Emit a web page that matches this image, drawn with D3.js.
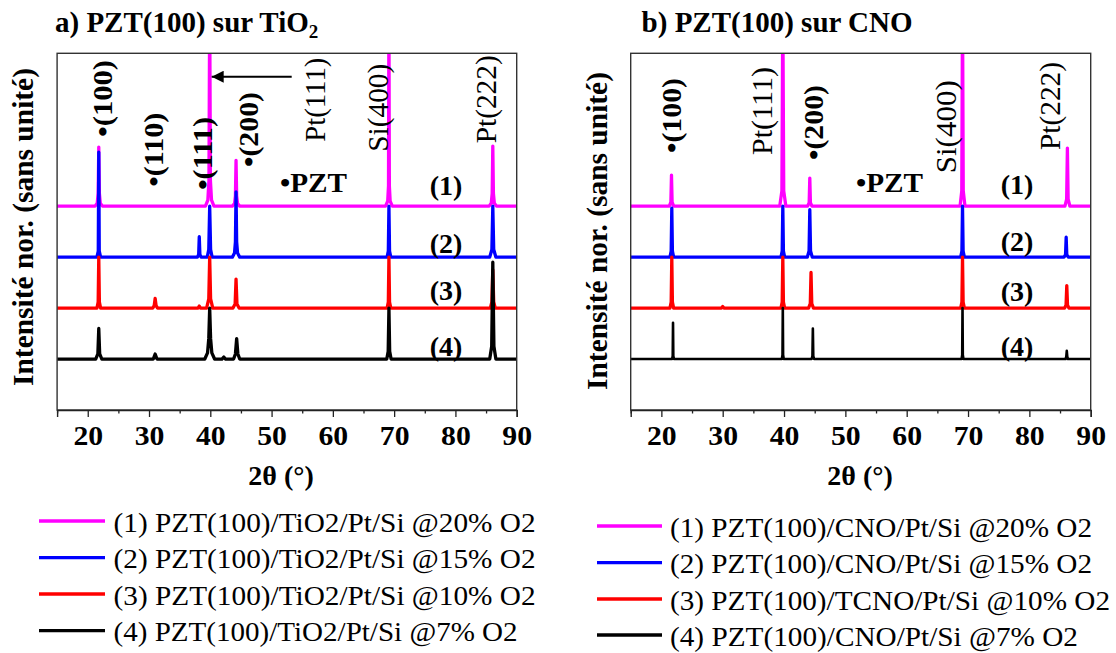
<!DOCTYPE html>
<html><head><meta charset="utf-8">
<script src="https://cdn.jsdelivr.net/npm/d3@7"></script>
<style>body{margin:0;background:#fff}svg{display:block}</style>
</head><body>
<script>
// ---------- DATA ----------
const xTicks = [20, 30, 40, 50, 60, 70, 80, 90];
const xMinorTicks = [15, 25, 35, 45, 55, 65, 75, 85];
const seriesColors = ["#ff00ff", "#0000ff", "#ff0000", "#000000"];
const seriesOffsets = [4, 3, 2, 1];
const seriesNumbers = ["(1)", "(2)", "(3)", "(4)"];

// Left panel (PZT(100) sur TiO2): [2θ, relative normalized intensity]
const left1 = [[15,0],[21.2,0],[21.55,0.06],[21.7,0.25],[21.8,1.16],[21.9,0.25],[22.05,0.06],[22.4,0],[39.2,0],[39.6,0.12],[39.78,0.5],[39.9,4],[40.02,0.5],[40.2,0.12],[40.6,0],[43.6,0],[43.95,0.05],[44.1,0.2],[44.2,0.9],[44.3,0.2],[44.45,0.05],[44.8,0],[68.6,0],[68.95,0.1],[69.08,0.4],[69.15,4],[69.22,0.4],[69.35,0.1],[69.7,0],[85.5,0],[85.85,0.06],[86.0,0.25],[86.1,1.18],[86.2,0.25],[86.35,0.06],[86.7,0],[90,0]];
const left2 = [[15,0],[21.5,0],[21.72,0.12],[21.8,2.06],[21.88,0.12],[22.1,0],[37.9,0],[38.1,0.05],[38.2,0.4],[38.3,0.05],[38.5,0],[39.5,0],[39.75,0.15],[39.9,1.0],[40.05,0.15],[40.3,0],[43.6,0],[43.95,0.08],[44.1,0.3],[44.2,1.28],[44.3,0.3],[44.45,0.08],[44.8,0],[68.85,0],[69.05,0.12],[69.15,1.0],[69.25,0.12],[69.45,0],[85.6,0],[85.95,0.15],[86.1,1.0],[86.25,0.15],[86.6,0],[90,0]];
const left3 = [[15,0],[21.5,0],[21.7,0.12],[21.8,1.0],[21.9,0.12],[22.1,0],[30.6,0],[30.85,0.05],[31.0,0.19],[31.15,0.05],[31.4,0],[38.0,0],[38.2,0.04],[38.4,0],[39.4,0],[39.75,0.18],[39.9,1.0],[40.05,0.18],[40.4,0],[43.7,0],[44.05,0.08],[44.2,0.57],[44.35,0.08],[44.7,0],[68.85,0],[69.05,0.12],[69.15,1.0],[69.25,0.12],[69.45,0],[85.7,0],[85.95,0.12],[86.1,0.75],[86.25,0.12],[86.5,0],[90,0]];
const left4 = [[15,0],[21.3,0],[21.65,0.1],[21.8,0.6],[21.95,0.1],[22.3,0],[30.7,0],[31.0,0.1],[31.3,0],[39.1,0],[39.55,0.12],[39.75,0.4],[39.9,1.0],[40.05,0.4],[40.25,0.12],[40.7,0],[41.9,0],[42.2,0.04],[42.5,0],[43.8,0],[44.1,0.1],[44.3,0.4],[44.5,0.1],[44.8,0],[68.8,0],[69.03,0.15],[69.15,1.0],[69.27,0.15],[69.5,0],[85.6,0],[85.92,0.25],[86.1,1.9],[86.28,0.25],[86.6,0],[90,0]];

// Right panel (PZT(100) sur CNO)
const right1 = [[15,0],[21.3,0],[21.55,0.08],[21.65,0.61],[21.75,0.08],[22.0,0],[39.3,0],[39.65,0.3],[39.8,4],[39.95,0.3],[40.3,0],[43.85,0],[44.1,0.07],[44.2,0.55],[44.3,0.07],[44.55,0],[68.7,0],[68.98,0.3],[69.1,4],[69.22,0.3],[69.5,0],[85.8,0],[86.08,0.14],[86.2,1.14],[86.32,0.14],[86.6,0],[90,0]];
const right2 = [[15,0],[21.4,0],[21.6,0.12],[21.7,0.96],[21.8,0.12],[22.0,0],[39.5,0],[39.7,0.12],[39.8,1.0],[39.9,0.12],[40.1,0],[43.8,0],[44.08,0.12],[44.2,0.93],[44.32,0.12],[44.6,0],[68.8,0],[69.0,0.12],[69.1,1.0],[69.2,0.12],[69.4,0],[85.65,0],[85.9,0.05],[86.0,0.39],[86.1,0.05],[86.35,0],[90,0]];
const right3 = [[15,0],[21.4,0],[21.6,0.12],[21.7,1.0],[21.8,0.12],[22.0,0],[29.8,0],[30.0,0.03],[30.2,0],[39.5,0],[39.7,0.12],[39.8,1.0],[39.9,0.12],[40.1,0],[44.0,0],[44.28,0.09],[44.4,0.7],[44.52,0.09],[44.8,0],[68.8,0],[69.0,0.12],[69.1,1.0],[69.2,0.12],[69.4,0],[85.75,0],[85.98,0.06],[86.1,0.44],[86.22,0.06],[86.45,0],[90,0]];
const right4 = [[15,0],[21.75,0],[21.85,0.06],[21.9,0.71],[21.95,0.06],[22.05,0],[39.65,0],[39.75,0.08],[39.8,1.0],[39.85,0.08],[39.95,0],[44.5,0],[44.63,0.06],[44.7,0.6],[44.77,0.06],[44.9,0],[68.95,0],[69.05,0.08],[69.1,1.0],[69.15,0.08],[69.25,0],[85.9,0],[86.02,0.05],[86.1,0.16],[86.18,0.05],[86.3,0],[90,0]];

const legendLeft = ["(1) PZT(100)/TiO2/Pt/Si @20% O2","(2) PZT(100)/TiO2/Pt/Si @15% O2","(3) PZT(100)/TiO2/Pt/Si @10% O2","(4) PZT(100)/TiO2/Pt/Si @7% O2"];
const legendRight = ["(1) PZT(100)/CNO/Pt/Si @20% O2","(2) PZT(100)/CNO/Pt/Si @15% O2","(3) PZT(100)/TCNO/Pt/Si @10% O2","(4) PZT(100)/CNO/Pt/Si @7% O2"];

const yLabel = "Intensité nor. (sans unité)";
const xLabel = "2θ (°)";

// ---------- DRAWING ----------
const W = 1116, H = 653;
const svg = d3.select("body").append("svg").attr("width", W).attr("height", H);
const SERIF = "'Liberation Serif','Times New Roman',serif";

const panels = [
  {id:"L", x0:57.1, x1:516.7, series:[left1,left2,left3,left4],
   title:"a) PZT(100) sur TiO", titleSub:"2", titleX:55,
   yLabX:33, yLabY:227, xLabX:281,
   numX:446, numY:[195,253,300,356],
   legend:legendLeft, legX0:39, legX1:105, legTx:113.6, legY:[521,557.7,594,630.7], legLen:[422,422,422,404],
   rot:[
     {t:"•(100)", x:112, y:137, len:77, bold:true},
     {t:"•(110)", x:163, y:186.7, len:74, bold:true},
     {t:"•(111)", x:212, y:190, len:73, bold:true},
     {t:"•(200)", x:258, y:167, len:75, bold:true},
     {t:"Pt(111)", x:325, y:141.7, len:84, bold:false},
     {t:"Si(400)", x:388, y:151.7, len:88, bold:false},
     {t:"Pt(222)", x:496, y:143.3, len:88, bold:false}
   ],
   pzt:{x:280, y:191.7, len:67},
   arrow:{x1:291.7, x2:211.7, y:76.7}
  },
  {id:"R", x0:630.7, x1:1090.7, series:[right1,right2,right3,right4],
   title:"b) PZT(100) sur CNO", titleSub:null, titleX:641.6,
   yLabX:607, yLabY:231, xLabX:860,
   numX:1017, numY:[194,250.5,301,355.5],
   legend:legendRight, legX0:597, legX1:662, legTx:670, legY:[526,562.7,599,635], legLen:[422,422,440,408],
   rot:[
     {t:"•(100)", x:681, y:153, len:75, bold:true},
     {t:"Pt(111)", x:772, y:155, len:88, bold:false},
     {t:"•(200)", x:823, y:160, len:75, bold:true},
     {t:"Si(400)", x:956, y:173.3, len:93, bold:false},
     {t:"Pt(222)", x:1060, y:150, len:88, bold:false}
   ],
   pzt:{x:856, y:191.7, len:67},
   arrow:null
  }
];

const yTop = 53.3, yBot = 410;
const defs = svg.append("defs");
defs.append("marker").attr("id","ah").attr("viewBox","0 0 10 10").attr("refX",10).attr("refY",5)
  .attr("markerWidth",7).attr("markerHeight",6).attr("markerUnits","strokeWidth").attr("orient","auto")
  .append("path").attr("d","M0,0 L10,5 L0,10 z").attr("fill","#000");

panels.forEach(p => {
  const x = d3.scaleLinear().domain([15, 90]).range([p.x0, p.x1]);
  const y = d3.scaleLinear().domain([0, 7]).range([yBot, yTop]);

  defs.append("clipPath").attr("id","clip"+p.id).append("rect")
    .attr("x", p.x0).attr("y", yTop).attr("width", p.x1 - p.x0).attr("height", yBot - yTop);

  const g = svg.append("g");
  const plot = g.append("g").attr("clip-path", "url(#clip"+p.id+")");
  p.series.forEach((s, i) => {
    const line = d3.line().x(d => x(d[0])).y(d => y(d[1] + seriesOffsets[i]));
    plot.append("path").datum(s).attr("d", line).attr("fill","none")
      .attr("stroke", seriesColors[i]).attr("stroke-width", (p.id==="R" && i===3) ? 2.6 : 3.3)
      .attr("stroke-linejoin","round");
  });

  // frame
  g.append("rect").attr("x", p.x0).attr("y", yTop).attr("width", p.x1 - p.x0).attr("height", yBot - yTop)
    .attr("fill","none").attr("stroke","#333").attr("stroke-width",1.4);

  // axes
  const ax = d3.axisBottom(x).tickValues(xTicks).tickSize(7).tickFormat(d3.format("d"));
  const axG = g.append("g").attr("transform", `translate(0,${yBot})`).call(ax);
  axG.attr("font-family", SERIF);
  axG.select(".domain").attr("stroke","#222").attr("stroke-width",1.4);
  axG.selectAll(".tick line").attr("stroke","#222").attr("stroke-width",1.3);
  axG.selectAll(".tick text").attr("y", 35).attr("dy", 0)
    .attr("font-family", SERIF).attr("font-weight","bold").attr("font-size", 27)
    .attr("fill","#000").attr("transform","scale(1.1,1)");
  const axm = d3.axisBottom(x).tickValues(xMinorTicks).tickSize(3.5).tickFormat("");
  const axmG = g.append("g").attr("transform", `translate(0,${yBot})`).call(axm);
  axmG.select(".domain").remove();
  axmG.selectAll(".tick line").attr("stroke","#222").attr("stroke-width",1.3);

  // title
  const tt = g.append("text").attr("x", p.titleX).attr("y", 31.7)
    .attr("font-family", SERIF).attr("font-weight","bold").attr("font-size", 29).attr("fill","#000");
  tt.append("tspan").text(p.title);
  if (p.titleSub) tt.append("tspan").attr("font-size", 19).attr("dy", 6).text(p.titleSub);

  // y label
  g.append("text").attr("transform", `translate(${p.yLabX},${p.yLabY}) rotate(-90)`)
    .attr("text-anchor","middle").attr("font-family", SERIF).attr("font-weight","bold")
    .attr("font-size", 29).attr("textLength", 318).attr("lengthAdjust","spacingAndGlyphs").text(yLabel);

  // x label
  g.append("text").attr("x", p.xLabX).attr("y", 485).attr("text-anchor","middle")
    .attr("font-family", SERIF).attr("font-weight","bold").attr("font-size", 28).text(xLabel);

  // series numbers
  seriesNumbers.forEach((n, i) => {
    g.append("text").attr("x", p.numX).attr("y", p.numY[i]).attr("text-anchor","middle")
      .attr("font-family", SERIF).attr("font-weight","bold").attr("font-size", 28).text(n);
  });

  // rotated peak annotations
  p.rot.forEach(a => {
    g.append("text").attr("transform", `translate(${a.x},${a.y}) rotate(-90)`)
      .attr("font-family", SERIF).attr("font-weight", a.bold ? "bold" : "normal")
      .attr("font-size", a.bold ? 28 : 29).attr("textLength", a.len).attr("lengthAdjust","spacingAndGlyphs")
      .text(a.t);
  });

  // •PZT
  g.append("text").attr("x", p.pzt.x).attr("y", p.pzt.y).attr("font-family", SERIF)
    .attr("font-weight","bold").attr("font-size", 28).attr("textLength", p.pzt.len)
    .attr("lengthAdjust","spacingAndGlyphs").text("•PZT");

  // arrow
  if (p.arrow) {
    g.append("line").attr("x1", p.arrow.x1).attr("x2", p.arrow.x2).attr("y1", p.arrow.y).attr("y2", p.arrow.y)
      .attr("stroke","#000").attr("stroke-width",2).attr("marker-end","url(#ah)");
  }

  // legend
  p.legend.forEach((t, i) => {
    g.append("line").attr("x1", p.legX0).attr("x2", p.legX1).attr("y1", p.legY[i]).attr("y2", p.legY[i])
      .attr("stroke", seriesColors[i]).attr("stroke-width", 3.3);
    g.append("text").attr("x", p.legTx).attr("y", p.legY[i] + 10.5).attr("font-family", SERIF)
      .attr("font-size", 27).attr("textLength", p.legLen[i]).attr("lengthAdjust","spacingAndGlyphs")
      .attr("fill","#000").text(t);
  });
});
</script>
</body></html>
